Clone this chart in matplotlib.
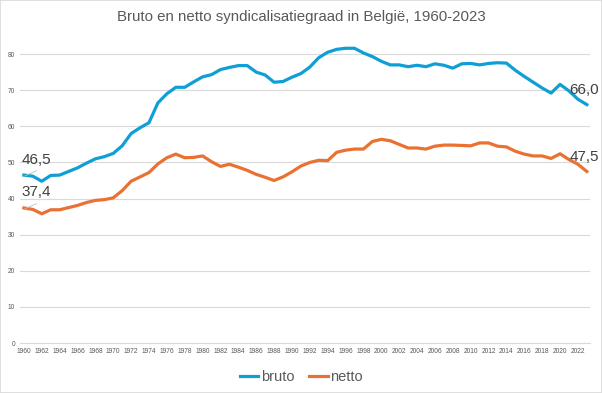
import matplotlib.pyplot as plt
from matplotlib.patches import Rectangle
from matplotlib.transforms import blended_transform_factory

plt.rcParams['font.family'] = ['Liberation Sans', 'DejaVu Sans']

# data
years = list(range(1960, 2024))
bruto = [46.5, 46.2, 44.8, 46.4, 46.5, 47.5, 48.5, 49.8, 51.0, 51.6,
         52.5, 54.6, 58.0, 59.6, 61.0, 66.5, 69.0, 70.8, 70.8, 72.3,
         73.7, 74.3, 75.7, 76.3, 76.8, 76.8, 75.0, 74.2, 72.2, 72.4,
         73.6, 74.6, 76.4, 79.0, 80.5, 81.3, 81.6, 81.6, 80.3, 79.3,
         78.0, 77.0, 77.0, 76.5, 76.9, 76.5, 77.3, 76.9, 76.1, 77.3,
         77.4, 77.0, 77.4, 77.6, 77.5, 75.5, 73.8, 72.2, 70.6, 69.2,
         71.6, 69.8, 67.5, 66.0]
netto = [37.4, 37.0, 35.8, 36.9, 36.9, 37.5, 38.1, 38.9, 39.5, 39.7,
         40.2, 42.2, 44.8, 46.0, 47.2, 49.6, 51.3, 52.3, 51.3, 51.4,
         51.8, 50.2, 48.9, 49.5, 48.7, 47.8, 46.7, 45.9, 45.0, 46.0,
         47.4, 49.0, 50.0, 50.6, 50.5, 52.8, 53.4, 53.7, 53.7, 55.8,
         56.4, 56.0, 55.0, 54.0, 54.0, 53.7, 54.5, 54.8, 54.8, 54.7,
         54.6, 55.4, 55.4, 54.5, 54.3, 53.1, 52.3, 51.8, 51.8, 51.1,
         52.4, 50.8, 49.5, 47.5]
labels = ['bruto', 'netto']

blue = '#0F9ED5'
orange = '#E97132'

fig = plt.figure(figsize=(6.02, 3.93), dpi=100)
ax = fig.add_axes([0.033, 0.127, 0.947, 0.809])

ax.plot(years, bruto, color=blue, lw=2.3, label=labels[0], solid_joinstyle='round')
ax.plot(years, netto, color=orange, lw=2.3, label=labels[1], solid_joinstyle='round')

ax.set_xlim(1959.55, 2023.35)
ax.set_ylim(0, 88)
ax.set_xticks(years[::2])
ax.set_yticks(range(0, 81, 10))
ax.tick_params(axis='both', length=0, labelsize=4.8, labelcolor='#595959', pad=3.5)
ax.grid(axis='y', color='#D9D9D9', lw=0.8)
ax.set_axisbelow(True)
for s in ['top', 'right', 'left']:
    ax.spines[s].set_visible(False)
ax.spines['bottom'].set_color('#D9D9D9')

# data labels at both ends
right_tr = blended_transform_factory(fig.transFigure, ax.transData)
for series in (bruto, netto):
    first = series[0]
    ax.text(1959.7, first + 4.3, f'{first:.1f}'.replace('.', ','),
            ha='left', va='center', fontsize=11, color='#404040')
    ax.plot([years[0] + 0.15, years[0] + 1.4], [first - 0.2, first + 1.2],
            color='#BFBFBF', lw=0.6)
    last = series[-1]
    ax.text(0.995, last + 4.0, f'{last:.1f}'.replace('.', ','), transform=right_tr,
            ha='right', va='center', fontsize=11, color='#404040', clip_on=False)

fig.suptitle('Bruto en netto syndicalisatiegraad in België, 1960-2023',
             y=0.975, fontsize=10.8, color='#595959')
fig.legend(loc='lower center', bbox_to_anchor=(0.5, -0.01), ncol=2, frameon=False,
           fontsize=10.5, handlelength=1.3, handletextpad=0.15, columnspacing=1.0,
           labelcolor='#595959')

fig.patches.append(Rectangle((0, 0), 1, 1, transform=fig.transFigure, fill=False,
                             edgecolor='#D9D9D9', lw=1.2))

fig.savefig('out.png', dpi=100)
